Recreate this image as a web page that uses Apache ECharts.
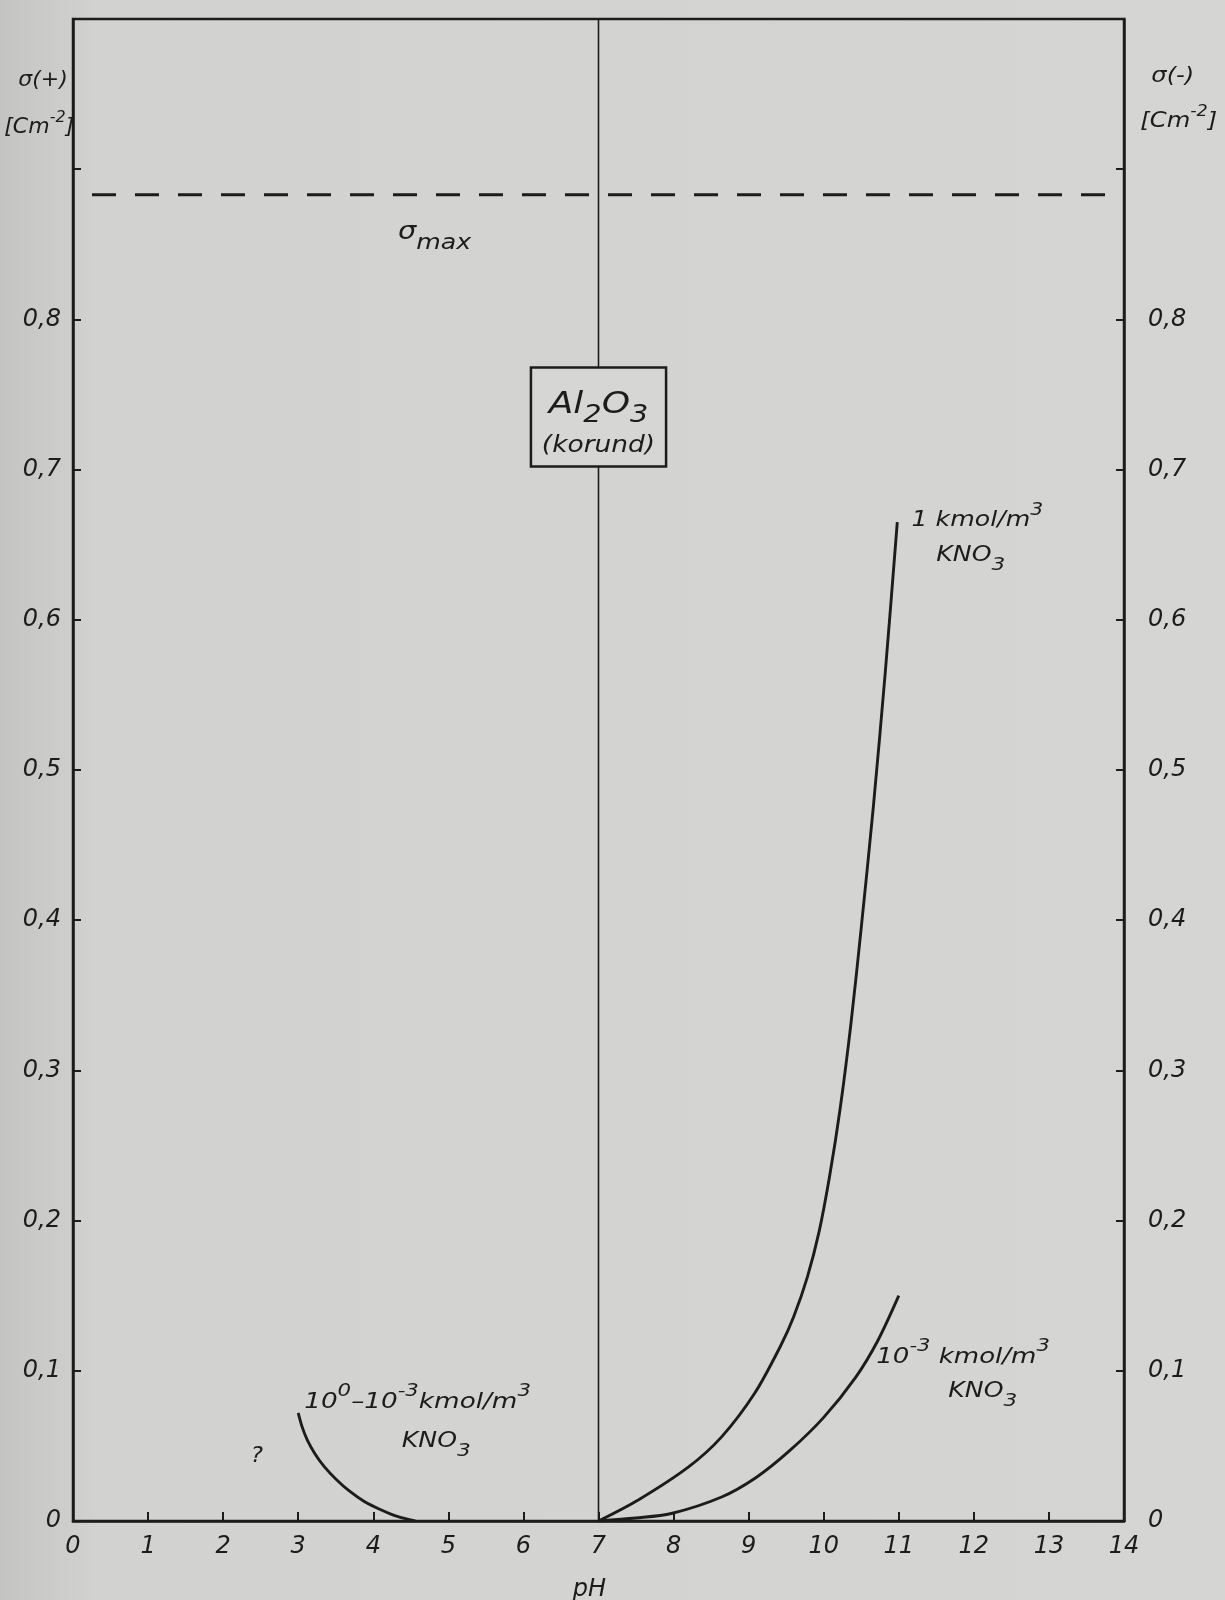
<!DOCTYPE html>
<html>
<head>
<meta charset="utf-8">
<script src="https://cdn.jsdelivr.net/npm/echarts@6/dist/echarts.min.js"></script>
<style>html,body{margin:0;padding:0;background:#d3d3d1}#c{width:1225px;height:1600px}</style>
</head>
<body>
<div id="c"></div>
<script>
// ---- data ----
const pHLow = [3.0, 3.05, 3.12, 3.22, 3.35, 3.50, 3.68, 3.88, 4.10, 4.32, 4.56];
const sigmaLow = [0.072, 0.063, 0.054, 0.045, 0.036, 0.028, 0.020, 0.013, 0.0075, 0.003, 0.0];

const pH1M = [7.0, 7.53, 8.20, 8.64, 9.08, 9.42, 9.60, 9.78, 9.94, 10.08, 10.22, 10.36, 10.50, 10.66, 10.82, 10.98];
const sigma1M = [0.0, 0.014, 0.036, 0.056, 0.085, 0.116, 0.136, 0.162, 0.193, 0.23, 0.275, 0.33, 0.395, 0.475, 0.565, 0.665];

const pH1mM = [7.0, 7.5, 7.97, 8.64, 9.10, 9.55, 10.0, 10.43, 10.72, 11.0];
const sigma1mM = [0.0, 0.002, 0.005, 0.016, 0.029, 0.047, 0.069, 0.096, 0.120, 0.150];

const sigmaMax = 0.883;
const neutralPH = 7;

const xTickLabels = ['0','1','2','3','4','5','6','7','8','9','10','11','12','13','14'];
const yTickLabels = ['0','0,1','0,2','0,3','0,4','0,5','0,6','0,7','0,8'];

// ---- styling ----
const ink = '#1c1c1c';
const FF = 'DejaVu Sans';
const bgFill = '#d6d6d4';

const zip = (xs, ys) => xs.map((x, i) => [x, ys[i]]);

const chart = echarts.init(document.getElementById('c'), null, {renderer: 'canvas', width: 1225, height: 1600});

const axisLbl = {fontSize: 24, fontStyle: 'italic', fontFamily: FF, color: ink};

const option = {
  animation: false,
  backgroundColor: {
    type: 'linear', x: 0, y: 0, x2: 1, y2: 0,
    colorStops: [{offset: 0, color: '#c4c4c2'}, {offset: 0.08, color: '#d2d2d0'}, {offset: 1, color: '#d5d5d3'}]
  },
  grid: {left: 73, right: 101, top: 19, bottom: 79, show: true, borderColor: ink, borderWidth: 2.5, backgroundColor: 'transparent'},
  xAxis: {
    type: 'value', min: 0, max: 14, interval: 1,
    axisLine: {show: true, lineStyle: {color: ink, width: 2.5}},
    axisTick: {show: true, inside: true, length: 9, lineStyle: {color: ink, width: 2}},
    axisLabel: Object.assign({margin: 14, formatter: (v, i) => xTickLabels[i] ?? ''}, axisLbl),
    splitLine: {show: false}
  },
  yAxis: [
    {
      type: 'value', min: 0, max: 1, interval: 0.1, position: 'left',
      axisLine: {show: true, lineStyle: {color: ink, width: 2.5}},
      axisTick: {show: true, inside: true, length: 8, lineStyle: {color: ink, width: 2}},
      axisLabel: Object.assign({margin: 12, formatter: (v, i) => yTickLabels[i] ?? ''}, axisLbl),
      splitLine: {show: false}
    },
    {
      type: 'value', min: 0, max: 1, interval: 0.1, position: 'right',
      axisLine: {show: true, lineStyle: {color: ink, width: 2.5}},
      axisTick: {show: true, inside: true, length: 8, lineStyle: {color: ink, width: 2}},
      axisLabel: Object.assign({margin: 24, formatter: (v, i) => yTickLabels[i] ?? ''}, axisLbl),
      splitLine: {show: false}
    }
  ],
  series: [
    {
      name: 'pH7', type: 'line', z: 1, symbol: 'none', silent: true,
      data: [[neutralPH, 0], [neutralPH, 1]],
      lineStyle: {color: ink, width: 1.6}
    },
    {
      name: 'sigmaMax', type: 'line', z: 2, symbol: 'none', silent: true,
      data: [[0, sigmaMax], [14, sigmaMax]],
      lineStyle: {color: ink, width: 3.2, type: [24, 19], dashOffset: 24}
    },
    {
      name: 'low', type: 'line', z: 3, symbol: 'none', smooth: 0.3, silent: true,
      data: zip(pHLow, sigmaLow),
      lineStyle: {color: ink, width: 2.9}
    },
    {
      name: '1M', type: 'line', z: 3, symbol: 'none', smooth: 0.3, silent: true,
      data: zip(pH1M, sigma1M),
      lineStyle: {color: ink, width: 2.9}
    },
    {
      name: '1mM', type: 'line', z: 3, symbol: 'none', smooth: 0.3, silent: true,
      data: zip(pH1mM, sigma1mM),
      lineStyle: {color: ink, width: 2.9}
    }
  ]
};
chart.setOption(option);

// ---- annotations anchored in data space ----
const P = p => chart.convertToPixel({xAxisIndex: 0, yAxisIndex: 0}, p);
const f = (size, extra) => Object.assign({fontSize: size, fontStyle: 'italic', fontFamily: FF, fill: ink}, extra || {});

function label(at, text, rich, opts) {
  const p = P(at);
  opts = opts || {};
  return {
    type: 'text', x: p[0], y: p[1], z: 100, scaleX: opts.scaleX || 1,
    style: {text: text, rich: rich, align: opts.align || 'left', verticalAlign: 'middle', fill: ink,
            fontSize: 20, fontStyle: 'italic', fontFamily: FF}
  };
}

const curveRich = {
  n: f(21, {lineHeight: 38}),
  s: f(17, {verticalAlign: 'top'}),
  b: f(18, {verticalAlign: 'bottom'})
};

const boxTL = P([6.1, 0.768]);
const boxBR = P([7.9, 0.702]);

const graphics = [
  {
    type: 'rect', z: 90,
    shape: {x: boxTL[0], y: boxTL[1], width: boxBR[0] - boxTL[0], height: boxBR[1] - boxTL[1]},
    style: {fill: bgFill, stroke: ink, lineWidth: 2.5}
  },
  label([7.0, 0.743], '{a|Al}{b|2}{a|O}{b|3}', {a: f(30, {lineHeight: 46}), b: f(24, {verticalAlign: 'bottom'})}, {align: 'center', scaleX: 1.2}),
  label([7.0, 0.716], '{a|(korund)}', {a: f(23)}, {align: 'center', scaleX: 1.15}),
  label([4.33, 0.858], '{a|σ}{b|max}', {a: f(24, {lineHeight: 44}), b: f(21, {verticalAlign: 'bottom'})}, {scaleX: 1.2}),

  label([11.17, 0.666], '{n|1 kmol/m}{s|3}', curveRich, {scaleX: 1.2}),
  label([11.5, 0.643], '{n|KNO}{b|3}', curveRich, {scaleX: 1.2}),

  label([10.7, 0.109], '{n|10}{s|-3}{n| kmol/m}{s|3}', curveRich, {scaleX: 1.24}),
  label([11.66, 0.086], '{n|KNO}{b|3}', curveRich, {scaleX: 1.2}),

  label([3.08, 0.079], '{n|10}{s|0}{n|–10}{s|-3}{n|kmol/m}{s|3}', curveRich, {scaleX: 1.25}),
  label([4.38, 0.053], '{n|KNO}{b|3}', curveRich, {scaleX: 1.2}),
  label([2.45, 0.043], '{n|?}', curveRich, {align: 'center', scaleX: 1.1}),

  // axis names
  label([-0.40, 0.959], '{a|σ(+)}', {a: f(22)}, {align: 'center'}),
  label([-0.45, 0.928], '{a|[Cm}{s|-2}{a|]}', {a: f(22, {lineHeight: 34}), s: f(16, {verticalAlign: 'top'})}, {align: 'center'}),
  label([14.65, 0.962], '{a|σ(-)}', {a: f(22)}, {align: 'center', scaleX: 1.1}),
  label([14.73, 0.932], '{a|[Cm}{s|-2}{a|]}', {a: f(22, {lineHeight: 34}), s: f(16, {verticalAlign: 'top'})}, {align: 'center', scaleX: 1.1}),
  label([6.88, -0.046], '{a|pH}', {a: f(24)}, {align: 'center'})
];

chart.setOption({graphic: graphics});
</script>
</body>
</html>
